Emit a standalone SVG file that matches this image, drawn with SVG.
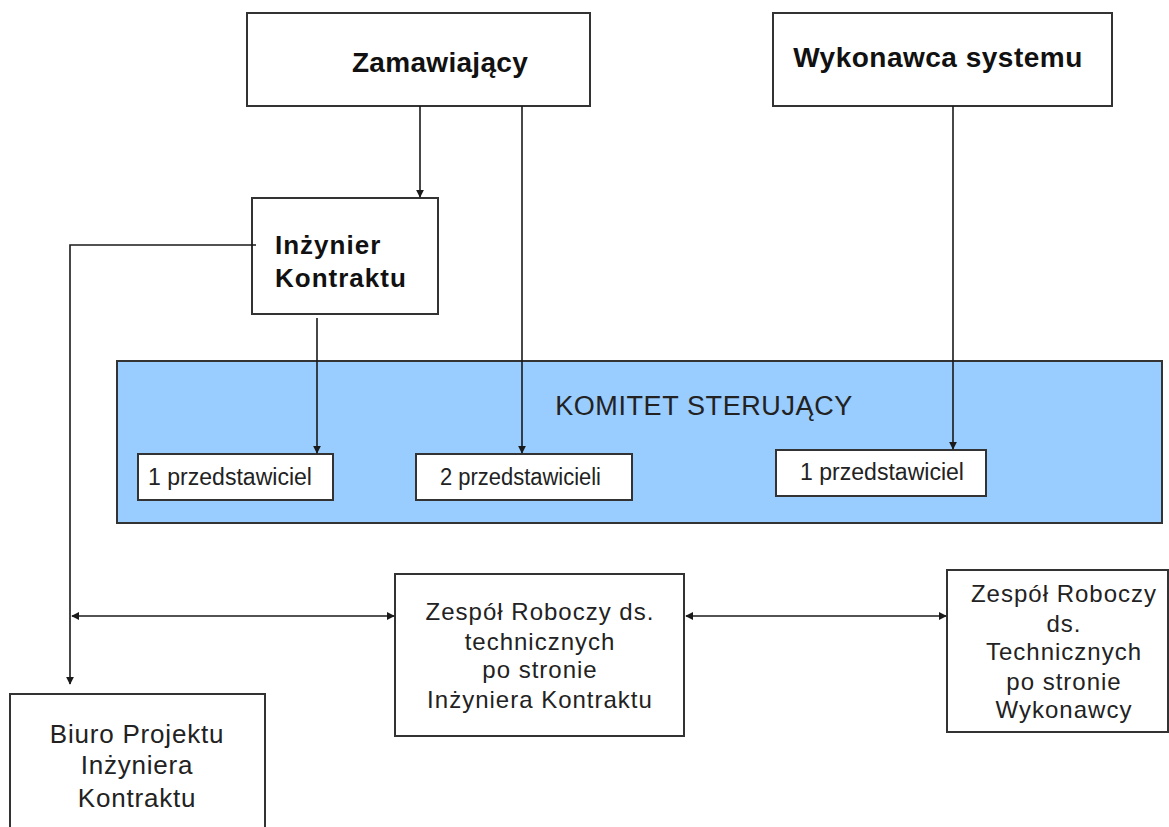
<svg xmlns="http://www.w3.org/2000/svg" width="1169" height="827" viewBox="0 0 1169 827">
  <style>
    .box { fill: #ffffff; stroke: #333333; stroke-width: 2; }
    .panel { fill: #99ccff; stroke: #333333; stroke-width: 2; }
    .line { fill: none; stroke: #1a1a1a; stroke-width: 1.6; }
    .title { font-family: "Liberation Sans", Arial, sans-serif; font-weight: bold; fill: #111111; }
    .label { font-family: "Liberation Sans", Arial, sans-serif; fill: #222222; }
    .mid { text-anchor: middle; }
  </style>
  <defs>
    <marker id="arrow" viewBox="0 0 10 10" refX="9" refY="5" markerWidth="8" markerHeight="8" markerUnits="userSpaceOnUse" orient="auto-start-reverse">
      <path d="M0,0 L10,5 L0,10 Z" fill="#1a1a1a"/>
    </marker>
  </defs>

  <rect width="1169" height="827" fill="#ffffff"/>

  <g id="komitet">
    <rect class="panel" x="117" y="361" width="1045" height="162"/>
    <text class="label mid" x="704" y="415" font-size="27" letter-spacing="0.6" fill="#0d1b33">KOMITET STERUJĄCY</text>
  </g>

  <g id="zamawiajacy">
    <rect class="box" x="247" y="13" width="343" height="93"/>
    <text class="title mid" x="440" y="72" font-size="28" letter-spacing="0.3">Zamawiający</text>
  </g>

  <g id="wykonawca">
    <rect class="box" x="773" y="13" width="339" height="93"/>
    <text class="title mid" x="938" y="67" font-size="28" letter-spacing="0.5">Wykonawca systemu</text>
  </g>

  <g id="inzynier">
    <rect class="box" x="252" y="198" width="186" height="116"/>
    <text class="title" x="275" y="254" font-size="26" letter-spacing="1">Inżynier</text>
    <text class="title" x="275" y="287" font-size="26" letter-spacing="1">Kontraktu</text>
  </g>

  <g id="przedstawiciel-ik">
    <rect class="box" x="138" y="454" width="195" height="46"/>
    <text class="label" x="148" y="485" font-size="23" textLength="164" lengthAdjust="spacingAndGlyphs">1 przedstawiciel</text>
  </g>

  <g id="przedstawiciele-zam">
    <rect class="box" x="416" y="454" width="216" height="46"/>
    <text class="label" x="440" y="485" font-size="23" textLength="161" lengthAdjust="spacingAndGlyphs">2  przedstawicieli</text>
  </g>

  <g id="przedstawiciel-wyk">
    <rect class="box" x="776" y="450" width="210" height="46"/>
    <text class="label" x="800" y="480" font-size="23" textLength="164" lengthAdjust="spacingAndGlyphs">1 przedstawiciel</text>
  </g>

  <g id="zespol-ik">
    <rect class="box" x="395" y="574" width="289" height="162"/>
    <text class="label mid" x="540" y="620" font-size="24" letter-spacing="1">Zespół Roboczy ds.</text>
    <text class="label mid" x="540" y="650" font-size="24" letter-spacing="1">technicznych</text>
    <text class="label mid" x="540" y="678" font-size="24" letter-spacing="1">po stronie</text>
    <text class="label mid" x="540" y="708" font-size="24" letter-spacing="1">Inżyniera Kontraktu</text>
  </g>

  <g id="zespol-wyk">
    <rect class="box" x="947" y="570" width="221" height="162"/>
    <text class="label mid" x="1064" y="602" font-size="24" letter-spacing="1">Zespół Roboczy</text>
    <text class="label mid" x="1064" y="632" font-size="24" letter-spacing="1">ds.</text>
    <text class="label mid" x="1064" y="660" font-size="24" letter-spacing="1">Technicznych</text>
    <text class="label mid" x="1064" y="690" font-size="24" letter-spacing="1">po stronie</text>
    <text class="label mid" x="1064" y="718" font-size="24" letter-spacing="1">Wykonawcy</text>
  </g>

  <g id="biuro">
    <rect class="box" x="10" y="694" width="255" height="150"/>
    <text class="label mid" x="137" y="743" font-size="26" letter-spacing="0.8">Biuro Projektu</text>
    <text class="label mid" x="137" y="774" font-size="26" letter-spacing="0.8">Inżyniera</text>
    <text class="label mid" x="137" y="807" font-size="26" letter-spacing="0.8">Kontraktu</text>
  </g>

  <g id="connectors">
    <line class="line" x1="420" y1="106" x2="420" y2="197" marker-end="url(#arrow)"/>
    <line class="line" x1="522" y1="106" x2="522" y2="453" marker-end="url(#arrow)"/>
    <line class="line" x1="953" y1="106" x2="953" y2="449" marker-end="url(#arrow)"/>
    <line class="line" x1="317" y1="318" x2="317" y2="453" marker-end="url(#arrow)"/>
    <polyline class="line" points="256,245 70,245 70,684" marker-end="url(#arrow)"/>
    <line class="line" x1="72" y1="616" x2="394" y2="616" marker-start="url(#arrow)" marker-end="url(#arrow)"/>
    <line class="line" x1="686" y1="616" x2="946" y2="616" marker-start="url(#arrow)" marker-end="url(#arrow)"/>
  </g>
</svg>
